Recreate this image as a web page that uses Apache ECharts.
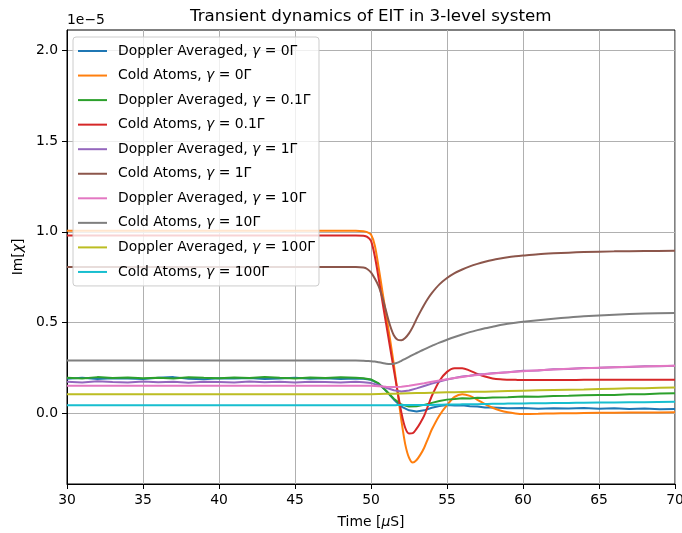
<!DOCTYPE html>
<html><head><meta charset="utf-8">
<script src="https://cdn.jsdelivr.net/npm/echarts@6/dist/echarts.min.js"></script>
<style>html,body{margin:0;padding:0;background:#fff}#c{width:682px;height:533px}</style>
</head><body><div id="c"></div>
<script>
// ---- data (Im[chi] in units of 1e-5) ----
const timeCold = [30, 40, 49, 49.5, 49.75, 50, 50.25, 50.5, 50.75, 51, 51.25, 51.5, 51.75, 52, 52.25, 52.5, 52.75, 53, 53.25, 53.5, 53.75, 54, 54.5, 55, 55.5, 56, 56.5, 57, 57.5, 58, 58.5, 59, 59.5, 60, 61, 62, 63, 64, 66, 68, 70];
const timeDoppler = [30, 31, 32, 33, 34, 35, 36, 37, 38, 39, 40, 41, 42, 43, 44, 45, 46, 47, 48, 49, 49.5, 50, 50.5, 51, 51.5, 52, 52.5, 53, 53.5, 54, 54.5, 55, 55.5, 56, 56.5, 57, 57.5, 58, 59, 60, 61, 62, 63, 64, 65, 66, 67, 68, 69, 70];

const dopplerG0 = [0.190,0.196,0.188,0.193,0.191,0.189,0.195,0.199,0.190,0.187,0.193,0.191,0.194,0.189,0.192,0.196,0.190,0.193,0.188,0.192,0.190,
  0.184,0.163,0.122,0.076,0.036,0.016,0.009,0.016,0.030,0.040,0.045,0.042,0.044,0.039,0.037,0.031,0.031,0.027,0.029,0.025,0.028,0.026,0.029,0.025,0.027,0.023,0.026,0.022,0.024];
const coldG0 = [1.005,1.005,1.005,1.003,0.998,0.985,0.925,0.805,0.672,0.540,0.410,0.270,0.115,-0.040,-0.170,-0.245,-0.272,-0.258,-0.228,-0.190,-0.140,-0.090,-0.012,0.045,0.090,0.105,0.096,0.074,0.050,0.030,0.015,0.005,-0.001,-0.004,-0.003,-0.001,0.000,0.001,0.003,0.004,0.005];
const dopplerG01 = [0.196,0.192,0.199,0.194,0.197,0.193,0.196,0.192,0.198,0.195,0.193,0.197,0.194,0.199,0.195,0.192,0.197,0.194,0.198,0.195,0.193,
  0.186,0.164,0.124,0.080,0.048,0.037,0.039,0.046,0.057,0.067,0.075,0.078,0.082,0.081,0.085,0.084,0.087,0.088,0.092,0.091,0.095,0.096,0.099,0.101,0.100,0.104,0.105,0.109,0.110];
const coldG01 = [0.980,0.980,0.980,0.978,0.972,0.950,0.865,0.745,0.615,0.490,0.365,0.240,0.120,0.003,-0.080,-0.112,-0.110,-0.085,-0.052,-0.013,0.040,0.095,0.178,0.228,0.248,0.248,0.235,0.217,0.202,0.192,0.187,0.185,0.184,0.183,0.183,0.183,0.183,0.184,0.184,0.184,0.184];
const dopplerG1 = [0.174,0.170,0.176,0.172,0.169,0.175,0.171,0.173,0.168,0.174,0.172,0.170,0.175,0.171,0.173,0.169,0.174,0.172,0.170,0.173,0.171,
  0.166,0.155,0.140,0.127,0.120,0.125,0.137,0.150,0.163,0.175,0.186,0.194,0.203,0.207,0.213,0.216,0.221,0.226,0.234,0.236,0.242,0.244,0.249,0.250,0.254,0.255,0.259,0.259,0.262];
const coldG1 = [0.806,0.806,0.806,0.803,0.795,0.776,0.742,0.700,0.637,0.560,0.485,0.430,0.405,0.402,0.415,0.440,0.476,0.520,0.560,0.598,0.632,0.662,0.710,0.745,0.772,0.792,0.809,0.823,0.835,0.845,0.853,0.860,0.865,0.869,0.876,0.881,0.885,0.888,0.892,0.894,0.895];
const dopplerG10 = [0.151,0.151,0.151,0.151,0.151,0.151,0.151,0.151,0.151,0.151,0.151,0.151,0.151,0.151,0.151,0.151,0.151,0.151,0.151,0.151,0.151,
  0.151,0.149,0.146,0.144,0.146,0.151,0.158,0.165,0.173,0.180,0.187,0.194,0.200,0.206,0.211,0.215,0.219,0.226,0.232,0.237,0.241,0.245,0.248,0.251,0.254,0.256,0.258,0.260,0.262];
const coldG10 = [0.290,0.290,0.290,0.289,0.288,0.287,0.285,0.281,0.277,0.273,0.271,0.273,0.279,0.289,0.300,0.311,0.322,0.332,0.342,0.352,0.362,0.371,0.389,0.405,0.420,0.434,0.447,0.458,0.468,0.477,0.486,0.493,0.499,0.504,0.513,0.521,0.528,0.534,0.543,0.549,0.553];
const dopplerG100 = [0.105,0.105,0.105,0.105,0.105,0.105,0.105,0.105,0.105,0.105,0.105,0.105,0.105,0.105,0.105,0.105,0.105,0.105,0.105,0.105,0.105,0.105,
  0.106,0.107,0.108,0.109,0.110,0.111,0.112,0.113,0.114,0.115,0.116,0.117,0.118,0.119,0.119,0.120,0.122,0.124,0.126,0.128,0.130,0.131,0.133,0.135,0.137,0.138,0.140,0.142];
const coldG100 = [0.044,0.044,0.044,0.044,0.044,0.044,0.044,0.044,0.044,0.044,0.044,0.044,0.045,0.045,0.045,0.045,0.045,0.046,0.046,0.046,0.046,0.046,0.047,0.048,0.048,0.049,0.050,0.050,0.051,0.052,0.052,0.053,0.053,0.054,0.055,0.056,0.057,0.058,0.059,0.061,0.063];

const seriesNames = ['Doppler Averaged, γ = 0Γ', 'Cold Atoms, γ = 0Γ', 'Doppler Averaged, γ = 0.1Γ', 'Cold Atoms, γ = 0.1Γ',
  'Doppler Averaged, γ = 1Γ', 'Cold Atoms, γ = 1Γ', 'Doppler Averaged, γ = 10Γ', 'Cold Atoms, γ = 10Γ',
  'Doppler Averaged, γ = 100Γ', 'Cold Atoms, γ = 100Γ'];
const xTicks = [30, 35, 40, 45, 50, 55, 60, 65, 70];
const yTicks = [0, 0.5, 1.0, 1.5, 2.0];
const titleText = 'Transient dynamics of EIT in 3-level system';
const xTitle = 'Time [{i|μ}S]';
const yTitle = 'Im[{i|χ}]';
const offsetText = '1e−5';

// ---- styles ----
const palette = ['#1f77b4','#ff7f0e','#2ca02c','#d62728','#9467bd','#8c564b','#e377c2','#7f7f7f','#bcbd22','#17becf'];
const FONT = 'DejaVu Sans';
const FS = 13.9;

const valueSets = [
  [timeDoppler, dopplerG0, false], [timeCold, coldG0, true],
  [timeDoppler, dopplerG01, false], [timeCold, coldG01, true],
  [timeDoppler, dopplerG1, false], [timeCold, coldG1, true],
  [timeDoppler, dopplerG10, false], [timeCold, coldG10, true],
  [timeDoppler, dopplerG100, false], [timeCold, coldG100, true]
];

const series = valueSets.map((s, i) => ({
  name: seriesNames[i],
  type: 'line',
  data: s[0].map((t, k) => [t, s[1][k]]),
  showSymbol: false,
  symbol: 'none',
  smooth: s[2] ? 0.3 : false,
  clip: true,
  color: palette[i],
  lineStyle: { color: palette[i], width: 2 },
  emphasis: { disabled: true },
  silent: true
}));

const chart = echarts.init(document.getElementById('c'), null, { renderer: 'canvas' });
chart.setOption({
  animation: false,
  backgroundColor: '#ffffff',
  grid: { left: 67, right: 7, top: 30, bottom: 49, show: true, borderColor: '#000', borderWidth: 1, backgroundColor: 'transparent', outerBoundsMode: 'none', containLabel: false },
  xAxis: {
    type: 'value', min: xTicks[0], max: xTicks[xTicks.length - 1], interval: 5,
    axisLine: { show: true, onZero: false, lineStyle: { color: '#000', width: 1 } },
    axisTick: { show: true, inside: false, length: 5, lineStyle: { color: '#000', width: 1 } },
    axisLabel: { color: '#000', fontSize: FS, fontFamily: FONT, margin: 9 },
    splitLine: { show: true, lineStyle: { color: '#b0b0b0', width: 1 } },
    name: xTitle, nameLocation: 'middle', nameGap: 31,
    nameTextStyle: { color: '#000', fontSize: FS, fontFamily: FONT, rich: { i: { fontStyle: 'italic', fontSize: FS, fontFamily: FONT, color: '#000' } } }
  },
  yAxis: {
    type: 'value', min: -0.39, max: 2.112,
    axisLine: { show: true, onZero: false, lineStyle: { color: '#000', width: 1 } },
    axisTick: { show: true, inside: false, length: 5, customValues: yTicks, lineStyle: { color: '#000', width: 1 } },
    axisLabel: { color: '#000', fontSize: FS, fontFamily: FONT, margin: 9, customValues: yTicks, formatter: v => v.toFixed(1) },
    splitLine: { show: true, lineStyle: { color: '#b0b0b0', width: 1 } },
    name: yTitle, nameLocation: 'middle', nameGap: 35, nameRotate: 90,
    nameTextStyle: { color: '#000', fontSize: FS, fontFamily: FONT, rich: { i: { fontStyle: 'italic', fontSize: FS, fontFamily: FONT, color: '#000' } } }
  },
  legend: {
    orient: 'vertical', left: 73, top: 37, padding: [6, 4, 6, 5], itemGap: 8.55,
    itemWidth: 29, itemHeight: 2, icon: 'rect',
    backgroundColor: 'rgba(255,255,255,0.8)', borderColor: '#cccccc', borderWidth: 1, borderRadius: 3,
    selectedMode: false,
    data: seriesNames,
    formatter: n => n.replace('γ', '{i|γ}'),
    textStyle: { color: '#000', fontSize: FS, fontFamily: FONT, lineHeight: 16, padding: [0, 0, 0, 6],
      rich: { i: { fontStyle: 'italic', fontSize: FS, fontFamily: FONT, color: '#000', lineHeight: 16 } } }
  },
  graphic: [
    { type: 'text', x: 370.7, y: 16.5, silent: true, style: { text: titleText, fontSize: 16.7, fontFamily: FONT, fill: '#000', align: 'center', verticalAlign: 'middle' } },
    { type: 'text', x: 67, y: 20, silent: true, style: { text: offsetText, fontSize: FS, fontFamily: FONT, fill: '#000', align: 'left', verticalAlign: 'middle' } }
  ],
  series: series
});
</script>
</body></html>
